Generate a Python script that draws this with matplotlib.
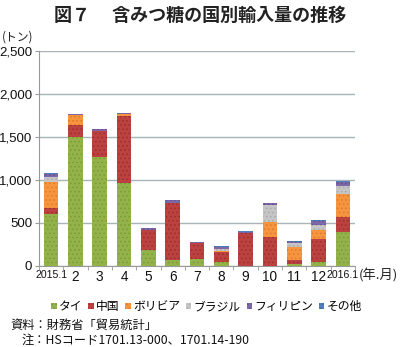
import matplotlib
matplotlib.use("Agg")
import matplotlib.pyplot as plt
from matplotlib import font_manager as fm
import numpy as np

plt.rcParams['font.family'] = ['Noto Sans CJK JP', 'DejaVu Sans']
plt.rcParams['hatch.linewidth'] = 0.6

# Monthly imports of non-centrifugal sugar by country (tonnes)
months = ["2015.1", "2", "3", "4", "5", "6", "7", "8", "9", "10", "11", "12", "2016.1"]
thai = [609, 1500, 1264, 965, 183, 70, 78, 48, 0, 0, 20, 47, 395]
china = [62, 136, 306, 780, 240, 659, 182, 118, 380, 330, 46, 260, 175]
bolivia = [310, 125, 0, 23, 0, 0, 0, 12, 0, 182, 148, 116, 264]
brazil = [54, 0, 0, 0, 0, 0, 0, 22, 0, 194, 53, 50, 93]
philippines = [35, 8, 25, 12, 18, 38, 18, 25, 15, 26, 16, 50, 48]
other = [8, 3, 3, 4, 4, 5, 2, 5, 5, 5, 4, 9, 10]

series = [
    ("タイ", thai, "#93b34a", "#7a9a35"),
    ("中国", china, "#bb4240", "#9c2e2d"),
    ("ボリビア", bolivia, "#f7953f", "#e0782a"),
    ("ブラジル", brazil, "#c5c5c5", "#aaaaaa"),
    ("フィリピン", philippines, "#7c68a6", "#62508c"),
    ("その他", other, "#4f7fbd", "#3d68a0"),
]

# number font; a narrow face for the long year labels when one is available
installed = {f.name for f in fm.fontManager.ttflist}
num_family = ['Liberation Sans', 'Noto Sans CJK JP']
if 'Liberation Sans Narrow' in installed:
    narrow = dict(family=['Liberation Sans Narrow', 'Noto Sans CJK JP'], size=8.5)
else:
    narrow = dict(family=num_family, size=7.6)

fig = plt.figure(figsize=(4.0, 3.47), dpi=100)
ax = fig.add_axes([0.0975, 0.234, 0.79, 0.618])

x = np.arange(len(months))
bottom = np.zeros(len(months))
for name, vals, col, dark in series:
    v = np.array(vals, dtype=float)
    ax.bar(x, v, width=0.6, bottom=bottom, color=col, edgecolor=dark,
           linewidth=0, hatch='....', label=name, zorder=3)
    bottom += v

ax.set_xlim(-0.5, len(months) - 0.5)
ax.set_ylim(0, 2500)
ax.set_yticks(np.arange(0, 2501, 500))
ax.set_yticklabels([f"{v:,}" for v in range(0, 2501, 500)],
                   family=num_family, fontsize=9.5)
ax.grid(axis='y', color='#a8b4ba', linewidth=1.0, zorder=0)
ax.set_axisbelow(True)

ax.set_xticks(x)
ax.set_xticklabels(months, family=num_family, fontsize=9.8)
for lab in ax.get_xticklabels():
    if '.' in lab.get_text():
        lab.set_family(narrow['family'])
        lab.set_fontsize(narrow['size'])
ax.set_xticks(np.arange(-0.5, len(months), 1), minor=True)
ax.tick_params(axis='x', which='major', length=0, pad=3)
ax.tick_params(axis='x', which='minor', length=3, color='#999999')
ax.tick_params(axis='y', length=3, color='#999999', pad=2)
for lab in ax.get_xticklabels() + ax.get_yticklabels():
    lab.set_color('#111111')

for side in ['top', 'right']:
    ax.spines[side].set_visible(False)
ax.spines['left'].set_color('#999999')
ax.spines['bottom'].set_color('#999999')

fig.text(0.5, 0.955, "図７　 含みつ糖の国別輸入量の推移", ha='center', va='center',
         fontsize=13, fontweight='bold', color='#222222')
fig.text(0.045, 0.893, "(トン)", ha='center', va='center', fontsize=8.5, color='#222222')
fig.text(0.897, 0.205, "(年.月)", ha='left', va='center', fontsize=9.5, color='#222222')

leg = ax.legend(loc='upper center', bbox_to_anchor=(0.53, -0.11), ncol=6,
                frameon=False, fontsize=8.5, handlelength=0.45, handleheight=0.45,
                handletextpad=0.2, columnspacing=0.5)

fig.text(0.025, 0.063, "資料：財務省「貿易統計」", ha='left', va='center',
         fontsize=8.8, color='#111111')
fig.text(0.055, 0.02, "注：HSコード1701.13-000、1701.14-190", ha='left', va='center',
         fontsize=8.8, color='#111111')

fig.savefig("out.png", dpi=100, facecolor='white')
